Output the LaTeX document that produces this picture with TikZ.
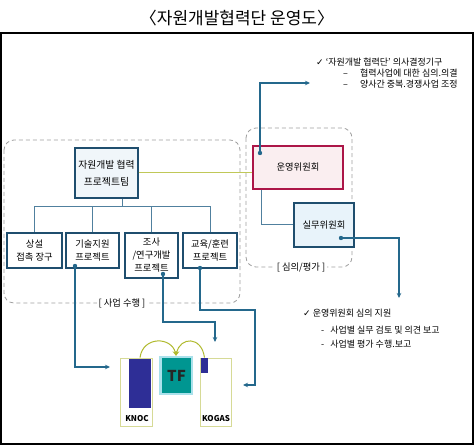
\documentclass[tikz,border=0pt]{standalone}
\usepackage{fontspec}
\setmainfont{Noto Sans CJK KR}
\newfontfamily\symfont{DejaVu Sans}
\usetikzlibrary{arrows.meta}

\definecolor{connblue}{RGB}{36,104,140}
\definecolor{treeblue}{RGB}{80,128,158}
\definecolor{boxblue}{RGB}{31,78,110}
\definecolor{teamfill}{RGB}{240,246,250}
\definecolor{workfill}{RGB}{232,243,250}
\definecolor{crimson}{RGB}{172,22,72}
\definecolor{pinkfill}{RGB}{250,238,240}
\definecolor{olive}{RGB}{176,186,46}
\definecolor{paleolive}{RGB}{214,218,150}
\definecolor{navy}{RGB}{46,46,150}
\definecolor{tfouter}{RGB}{170,225,235}
\definecolor{tfinner}{RGB}{0,150,145}

\begin{document}
\begin{tikzpicture}[x=1pt, y=-1pt,
    box/.style={draw=boxblue, line width=1.3pt, inner sep=0pt, align=center, font=\fontsize{9.3}{13}\selectfont},
    region/.style={draw=gray!75, dashed, dash pattern=on 4pt off 3pt, rounded corners=10pt, line width=0.8pt},
    tag/.style={fill=white, inner sep=2pt, font=\fontsize{9.3}{11}\selectfont},
    note/.style={anchor=west, inner sep=0pt, font=\fontsize{9}{10}\selectfont},
    tree/.style={draw=treeblue, line width=1pt},
    conn/.style={draw=connblue, line width=1.2pt, -{Stealth[length=5pt, width=4.5pt]}},
    arc/.style={draw=olive, line width=1pt, -{Stealth[length=5pt, width=5pt]}},
    company/.style={draw=paleolive, line width=0.8pt, fill=white, minimum width=32pt, minimum height=68pt, inner sep=0pt},
    firm/.style={font=\fontsize{8}{9}\selectfont\bfseries, inner sep=0pt},
]
\useasboundingbox (0,0) rectangle (475,446);

% === Title and frame ===
\node[font=\fontsize{17}{20}\selectfont] at (237,18) (title) {〈자원개발협력단 운영도〉};
\draw[line width=1.2pt] (1,33) rectangle (473,444);

% === Dashed regions ===
\draw[region] (4,140) rectangle (240,303);
\draw[region] (246,128) rectangle (352,267);
\node[tag] at (122,303) (tag-work) {[ 사업 수행 ]};
\node[tag] at (301,267) (tag-review) {[ 심의/평가 ]};

% === Project team (left) ===
\node[box, fill=teamfill, minimum width=63pt, minimum height=50pt, font=\fontsize{9.8}{17}\selectfont] at (106.5,173) (team) {자원개발 협력\\프로젝트팀};

\node[box, minimum width=55pt, minimum height=35pt] at (34.5,250.5) (office) {상설\\접촉 장구};
\node[box, minimum width=53pt, minimum height=35pt] at (92.5,250.5) (tech) {기술지원\\프로젝트};
\node[box, minimum width=53pt, minimum height=45pt] at (151.5,255.5) (research) {조사\\/연구개발\\프로젝트};
\node[box, minimum width=54pt, minimum height=35pt] at (210,250.5) (edu) {교육/훈련\\프로젝트};

\coordinate (hub) at (122,207);
\draw[tree] (team.south -| hub) -- (hub);
\foreach \n in {office,tech,research,edu}
    \draw[tree] (hub) -| (\n.north);

% === Committees (right) ===
\node[box, draw=crimson, fill=pinkfill, minimum width=90pt, minimum height=43pt] at (298,167.5) (steering) {운영위원회};
\node[box, fill=workfill, minimum width=60pt, minimum height=44pt] at (324,225) (working) {실무위원회};

\draw[tree] ([xshift=9pt]steering.south west) |- (working.west);
\draw[draw=olive!80, line width=1pt] (team.east) -- (team.east -| steering.west);

% === Companies ===
\node[company] at (136,392) (knoc) {};
\node[fill=navy, minimum width=22pt, minimum height=49pt, inner sep=0pt] at (140,383.5) (knoc-bar) {};
\node[firm] at (137,419) (knoc-label) {KNOC};

\node[company, minimum width=31pt] at (215.5,392) (kogas) {};
\node[fill=navy, minimum width=7pt, minimum height=15pt, inner sep=0pt] at (204.5,365.5) (kogas-bar) {};
\node[firm] at (216,419) (kogas-label) {KOGAS};

\node[fill=tfouter, minimum width=34pt, minimum height=39pt, inner sep=0pt] at (176,375.5) (tf) {};
\node[fill=tfinner, minimum width=29pt, minimum height=35pt, inner sep=0pt, font=\fontsize{15}{17}\selectfont\bfseries, text=black!85] at (176.5,375.5) (tf-core) {TF};

\draw[arc] ([xshift=4pt]knoc.north) .. controls +(3,-22) and +(-4,-19) .. (tf.north);
\draw[arc] ([xshift=-11pt]kogas.north) .. controls +(-3,-22) and +(4,-19) .. (tf.north);

% === Connectors ===
\coordinate (d-tech) at (75,266);
\coordinate (d-research) at (163,274);
\coordinate (d-edu) at (200,268);
\coordinate (d-steering) at (260,153);
\coordinate (d-working) at (341,238);
\coordinate (to-knoc) at (110,367);
\coordinate (to-tf) at (215,342);
\coordinate (to-kogas) at (243,385);
\coordinate (to-decide) at (310,83);
\coordinate (to-support) at (399,298);

\draw[conn] (d-tech) |- (to-knoc);
\draw[conn] (d-research) -- ++(0,48) -| (to-tf);
\draw[conn] (d-edu) |- ++(55,42) |- (to-kogas);
\draw[conn] (d-steering) |- (to-decide);
\draw[conn] (d-working) -| (to-support);
\foreach \d in {d-tech,d-research,d-edu,d-steering,d-working}
    \fill[connblue] (\d) circle (2.2pt);

% === Notes ===
\node[note] at (316,62) (decide) {{\symfont ✓} ‘자원개발 협력단’ 의사결정기구};
\node[note] at (343,73) (decide-a) {–\hspace{12pt}협력사업에 대한 심의.의결};
\node[note] at (343,84) (decide-b) {–\hspace{12pt}양사간 중복.경쟁사업 조정};

\node[note] at (303,313) (support) {{\symfont ✓} 운영위원회 심의 지원};
\node[note] at (321,330) (support-a) {-\hspace{6pt}사업별 실무 검토 및 의견 보고};
\node[note] at (321,344) (support-b) {-\hspace{6pt}사업별 평가 수행.보고};

\end{tikzpicture}
\end{document}
